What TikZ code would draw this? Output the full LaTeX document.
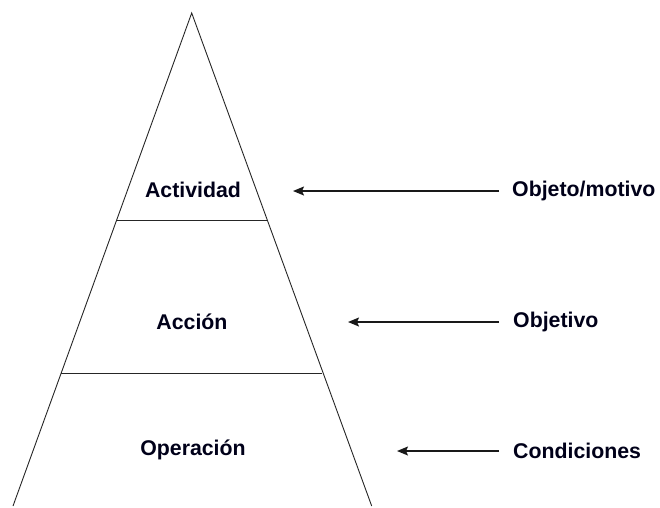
\documentclass[tikz,border=0pt]{standalone}
\usepackage{fontspec}
\setmainfont{Liberation Sans}
\usetikzlibrary{arrows.meta}
\begin{document}
\begin{tikzpicture}[x=1pt,y=-1pt,
  edge/.style={line width=0.9pt, black!85},
  level/.style={font=\fontsize{21.3}{24}\selectfont\bfseries, text=black!90!blue, inner sep=0pt},
  cause/.style={font=\fontsize{21.3}{24}\selectfont\bfseries, text=black!90!blue, inner sep=0pt, anchor=west},
  pointer/.style={line width=1.3pt, black!90, -{Stealth[length=11pt,width=9pt,inset=2pt]}}]
  \useasboundingbox (0,0) rectangle (660,507);
  % pyramid outline (open at the base)
  \coordinate (apex) at (191.7,13);
  \coordinate (bl) at (13,506);
  \coordinate (br) at (371.7,506);
  \draw[edge] (bl) -- (apex) -- (br);
  % level dividers
  \coordinate (d1l) at (116.5,220);
  \coordinate (d1r) at (267,220);
  \coordinate (d2l) at (61,373);
  \coordinate (d2r) at (322.4,373);
  \draw[edge] (d1l) -- (d1r);
  \draw[edge] (d2l) -- (d2r);
  % level names
  \node[level] (act) at (193,190) {Actividad};
  \node[level] (acc) at (192,322) {Acción};
  \node[level] (ope) at (193,450) {Operación};
  % what orients each level
  \node[cause] (mot) at (512,191) {Objeto/motivo};
  \node[cause] (obj) at (513,322) {Objetivo};
  \node[cause] (con) at (513,451) {Condiciones};
  \coordinate (t1) at (293,191);
  \coordinate (t2) at (348,322);
  \coordinate (t3) at (397,451);
  \draw[pointer] ([xshift=-13pt]mot.west) -- (t1);
  \draw[pointer] ([xshift=-14pt]obj.west) -- (t2);
  \draw[pointer] ([xshift=-14pt]con.west) -- (t3);
\end{tikzpicture}
\end{document}
